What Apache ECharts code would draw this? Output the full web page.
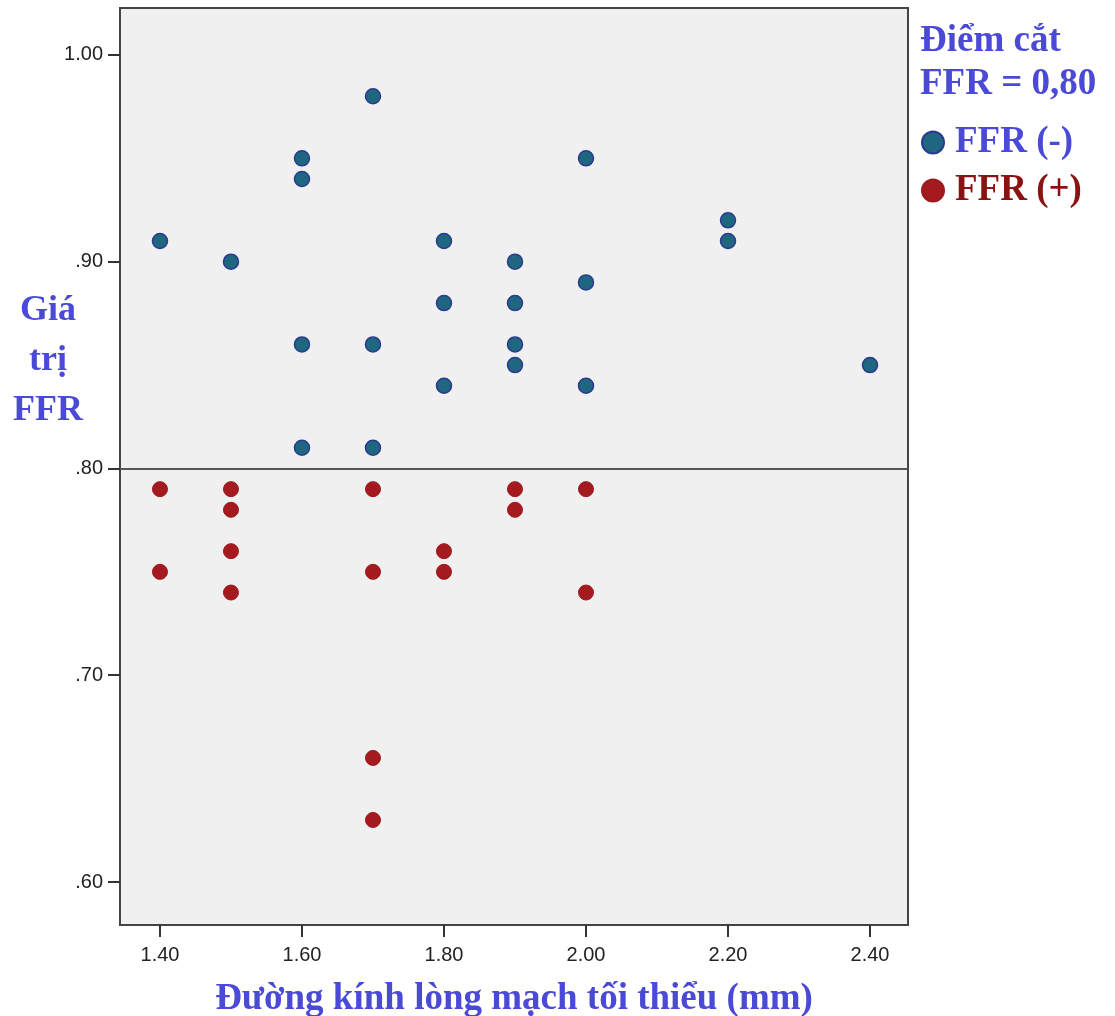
<!DOCTYPE html>
<html>
<head>
<meta charset="utf-8">
<script src="https://cdn.jsdelivr.net/npm/echarts@6/dist/echarts.min.js"></script>
<style>
  html, body { margin: 0; padding: 0; background: #fff; }
  #chart { width: 1115px; height: 1016px; }
</style>
</head>
<body>
<div id="chart"></div>
<script>
// FFR (-) points: [diameter mm, FFR]
var negPoints = [
  [1.4, 0.91], [1.5, 0.90], [1.6, 0.95], [1.6, 0.94], [1.6, 0.86], [1.6, 0.81],
  [1.7, 0.98], [1.7, 0.86], [1.7, 0.81], [1.8, 0.91], [1.8, 0.88], [1.8, 0.84],
  [1.9, 0.90], [1.9, 0.88], [1.9, 0.86], [1.9, 0.85], [2.0, 0.95], [2.0, 0.89],
  [2.0, 0.84], [2.2, 0.92], [2.2, 0.91], [2.4, 0.85]
];
// FFR (+) points
var posPoints = [
  [1.4, 0.79], [1.4, 0.75], [1.5, 0.79], [1.5, 0.78], [1.5, 0.76], [1.5, 0.74],
  [1.7, 0.79], [1.7, 0.75], [1.7, 0.66], [1.7, 0.63], [1.8, 0.76], [1.8, 0.75],
  [1.9, 0.79], [1.9, 0.78], [2.0, 0.79], [2.0, 0.74]
];
var xTicks = [1.4, 1.6, 1.8, 2.0, 2.2, 2.4];
var yTicks = [0.6, 0.7, 0.8, 0.9, 1.0];
var cutoff = 0.80;

var titleBlue = "#4a4ad6";
var serif = "'Liberation Serif', 'DejaVu Serif', serif";

var chart = echarts.init(document.getElementById("chart"));

var option = {
  animation: false,
  grid: {
    left: 120, top: 8, width: 788, height: 917,
    outerBoundsMode: "none",
    show: true,
    backgroundColor: "#f0f0f0",
    borderColor: "#444",
    borderWidth: 2
  },
  xAxis: {
    type: "value",
    min: 1.3437, max: 2.4535,
    name: "Đường kính lòng mạch tối thiểu (mm)",
    nameLocation: "middle",
    nameGap: 56,
    nameTextStyle: { fontFamily: serif, fontWeight: "bold", fontSize: 37, color: titleBlue },
    splitLine: { show: false },
    axisLine: { show: false },
    axisTick: { show: true, customValues: xTicks, length: 12, lineStyle: { color: "#333", width: 2 } },
    axisLabel: {
      customValues: xTicks, margin: 20, fontSize: 20, color: "#222",
      fontFamily: "'Liberation Sans', Arial, sans-serif",
      formatter: function (v) { return v.toFixed(2); }
    }
  },
  yAxis: {
    type: "value",
    min: 0.5792, max: 1.0227,
    splitLine: { show: false },
    axisLine: { show: false },
    axisTick: { show: true, customValues: yTicks, length: 12, lineStyle: { color: "#333", width: 2 } },
    axisLabel: {
      customValues: yTicks, margin: 17, fontSize: 20, color: "#222",
      fontFamily: "'Liberation Sans', Arial, sans-serif",
      formatter: function (v) {
        var s = v.toFixed(2);
        return s.charAt(0) === "0" ? s.slice(1) : s;
      }
    }
  },
  legend: {
    orient: "vertical",
    left: 921, top: 124,
    padding: 0,
    itemWidth: 22, itemHeight: 22,
    itemGap: 11,
    icon: "circle",
    textStyle: { fontFamily: serif, fontWeight: "bold", fontSize: 37, padding: [0, 0, 0, 6] },
    data: [
      { name: "FFR (-)", textStyle: { color: titleBlue } },
      { name: "FFR (+)", textStyle: { color: "#8b1212" } }
    ]
  },
  graphic: [
    {
      type: "text", x: 920, y: 20,
      style: {
        text: "Điểm cắt\nFFR = 0,80",
        font: "bold 37px " + serif,
        fill: titleBlue,
        lineHeight: 43
      }
    },
    {
      type: "text", x: 48, y: 286,
      style: {
        text: "Giá\ntrị\nFFR",
        font: "bold 36px " + serif,
        fill: titleBlue,
        align: "center",
        lineHeight: 50
      }
    }
  ],
  series: [
    {
      name: "FFR (-)",
      type: "scatter",
      symbolSize: 15,
      data: negPoints,
      itemStyle: { color: "#1f6680", borderColor: "#2b3a8e", borderWidth: 1.5, opacity: 1 },
      markLine: {
        silent: true,
        symbol: "none",
        label: { show: false },
        lineStyle: { color: "#555", width: 2, type: "solid" },
        data: [{ yAxis: cutoff }]
      }
    },
    {
      name: "FFR (+)",
      type: "scatter",
      symbolSize: 15,
      data: posPoints,
      itemStyle: { color: "#a51a1e", borderColor: "#9a1a1e", borderWidth: 1, opacity: 1 }
    }
  ]
};

chart.setOption(option);
</script>
</body>
</html>
